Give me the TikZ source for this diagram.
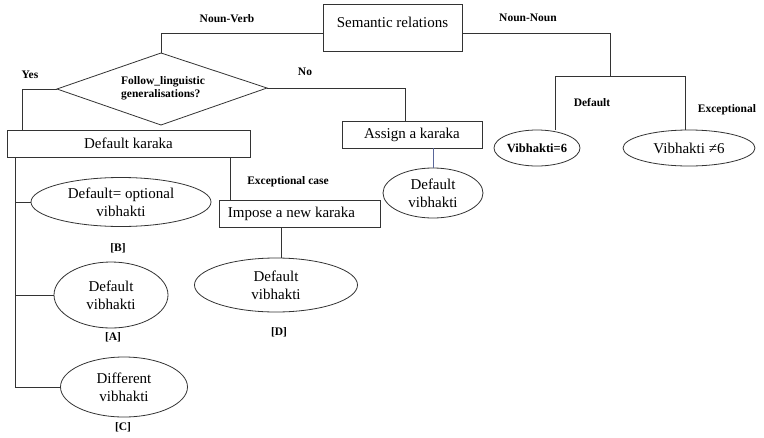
\documentclass[tikz,border=0pt]{standalone}
\usepackage{fontspec}
\setmainfont{Liberation Serif}
\usetikzlibrary{shapes.geometric}
\begin{document}
\begin{tikzpicture}[x=1pt,y=-1pt,
  line width=0.8pt,
  conn/.style={draw=black!80},
  box/.style={draw=black!80, rectangle, inner sep=0pt, font=\fontsize{15}{16}\selectfont},
  oval/.style={draw=black!80, ellipse, inner sep=0pt, align=center, font=\fontsize{15}{18}\selectfont},
  lbl/.style={font=\fontsize{11.5}{13}\selectfont\bfseries, inner sep=0pt},
]
\useasboundingbox[fill=white] (0,0) rectangle (764,437);
% boxes
\node[box, minimum width=139pt, minimum height=47pt, text height=10pt, text depth=12pt] (sem) at (392.5,28) {Semantic relations};
% diamond
\coordinate (diaN) at (161,53);
\coordinate (diaW) at (57,89);
\coordinate (diaE) at (267,88);
\coordinate (diaS) at (161,125);
\draw[conn] (diaN) -- (diaE) -- (diaS) -- (diaW) -- cycle;
\node[align=left, inner sep=0pt, font=\fontsize{11.5}{13}\selectfont\bfseries] (dia) at (163,88) {Follow\_linguistic\\generalisations?};
\node[box, minimum width=243pt, minimum height=27pt] (dk) at (128.5,143.5) {Default karaka};
\node[box, minimum width=140pt, minimum height=27pt] (ak) at (412,134.5) {Assign a karaka};
\node[box, minimum width=161pt, minimum height=27pt] (ik) at (299.5,213.5) {\hspace*{-16pt}Impose a new karaka};
% ellipses
\node[oval, minimum width=180pt, minimum height=49pt] (e1) at (121,202) {Default= optional\\vibhakti};
\node[oval, minimum width=114pt, minimum height=66pt] (e2) at (111,295) {Default\\vibhakti};
\node[oval, minimum width=127pt, minimum height=60pt] (e3) at (124,387) {Different\\vibhakti};
\node[oval, minimum width=163pt, minimum height=54pt] (e4) at (276,285) {Default\\vibhakti};
\node[oval, minimum width=100pt, minimum height=50pt] (e5) at (433,193) {Default\\vibhakti};
\node[oval, minimum width=86pt, minimum height=36pt, font=\fontsize{12.5}{14}\selectfont\bfseries] (v6) at (537,148) {Vibhakti=6};
\node[oval, minimum width=132pt, minimum height=36pt] (vn) at (689,148) {Vibhakti ≠6};
% labels
\node[lbl] (lB) at (118,248) {[B]};
\node[lbl] (lA) at (113,337) {[A]};
\node[lbl] (lC) at (123,427) {[C]};
\node[lbl] (lD) at (279,332) {[D]};
\node[lbl] (nv) at (227,19) {Noun-Verb};
\node[lbl] (nnl) at (528,18) {Noun-Noun};
\node[lbl] (yes) at (30,75) {Yes};
\node[lbl] (no) at (305,72) {No};
\node[lbl] (dft) at (592,103) {Default};
\node[lbl] (exc) at (727,110) {Exceptional};
\node[lbl] (exccase) at (288,182) {Exceptional case};
% helper coordinates
\coordinate (nn) at (610,76);
\coordinate (nnL) at (555,76);
\coordinate (nnR) at (685,76);
\coordinate (yc) at (22,0);
\coordinate (nc) at (405,0);
\coordinate (lc) at (15,0);
\coordinate (xc) at (230,0);
\coordinate (ic) at (281,0);
% connectors
\draw[conn] ([yshift=-5pt]sem.west) -| (diaN);
\draw[conn] ([yshift=-5pt]sem.east) -| (nn);
\draw[conn] (nnL |- v6.north) -- (nnL) -- (nnR) -- (nnR |- vn.north);
\draw[conn] (diaW) -| (yc |- dk.north);
\draw[conn] (diaE) -| (nc |- ak.north);
\draw[draw={rgb,1:red,0.35;green,0.4;blue,0.6}] (e5.north |- ak.south) -- (e5.north);
\draw[conn] (lc |- dk.south) -- (lc |- e3.west);
\draw[conn] (lc |- e1.west) -- (e1.west);
\draw[conn] (lc |- e2.west) -- (e2.west);
\draw[conn] (lc |- e3.west) -- (e3.west);
\draw[conn] (xc |- dk.south) -- (xc |- ik.north);
\draw[conn] (ic |- ik.south) -- (ic |- e4.north);
\end{tikzpicture}
\end{document}
